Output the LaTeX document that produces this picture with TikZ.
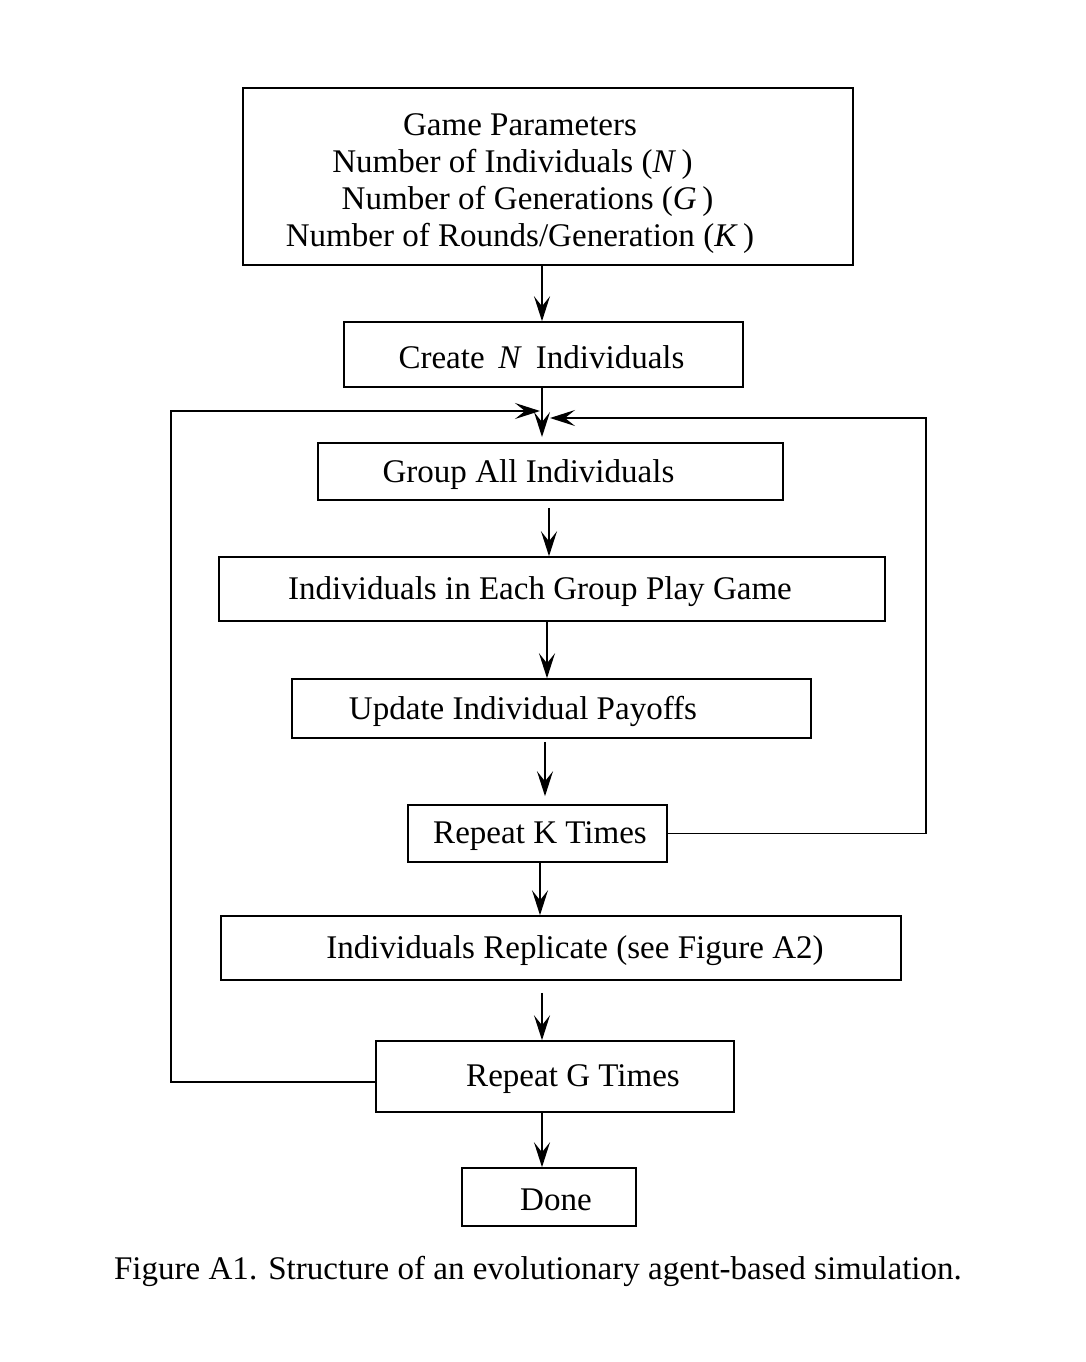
\documentclass[tikz,border=0pt]{standalone}
\usepackage{fontspec}
\setmainfont{Liberation Serif}
\usetikzlibrary{arrows.meta}

\begin{document}
\begin{tikzpicture}[line width=0.9pt, font=\fontsize{18.8}{21.2}\selectfont,
    box/.style = {draw, inner sep=0pt},
    every label/.append style = {yshift=-0.06cm},
    arr/.style = {-{Stealth[length=0.5cm, width=0.32cm, inset=0.2cm]}}]
      \useasboundingbox (0,0) rectangle (21.72,-27.24);
      % boxes
      \node[box, minimum width=12.2cm, minimum height=3.54cm] (params) at (10.96,-3.53) {};
      \node[align=center] (paramtext) at (10.40,-3.67) {Game Parameters\\ \hspace*{-0.3cm}Number of Individuals (\textit{N}\,)\\ \hspace*{0.3cm}Number of Generations (\textit{G}\,)\\ Number of Rounds/Generation (\textit{K}\,)};
      \node[box, minimum width=7.98cm, minimum height=1.30cm, label={[xshift=-0.04cm]center:Create \,\textit{N}\, Individuals}] (create) at (10.87,-7.09) {};
      \node[box, minimum width=9.30cm, minimum height=1.14cm, label={[xshift=-0.44cm]center:Group All Individuals}] (group) at (11.01,-9.43) {};
      \node[box, minimum width=13.32cm, minimum height=1.28cm, label={[xshift=-0.24cm]center:Individuals in Each Group Play Game}] (play) at (11.04,-11.78) {};
      \node[box, minimum width=10.38cm, minimum height=1.18cm, label={[xshift=-0.57cm]center:Update Individual Payoffs}] (update) at (11.03,-14.17) {};
      \node[box, minimum width=5.18cm, minimum height=1.14cm, label={[xshift=0.05cm]center:Repeat K Times}] (repk) at (10.75,-16.67) {};
      \node[box, minimum width=13.60cm, minimum height=1.28cm, label={[xshift=0.28cm]center:Individuals Replicate (see Figure A2)}] (replicate) at (11.22,-18.96) {};
      \node[box, minimum width=7.16cm, minimum height=1.42cm, label={[xshift=0.36cm]center:Repeat G Times}] (repg) at (11.10,-21.53) {};
      \node[box, minimum width=3.48cm, minimum height=1.16cm, label={[xshift=0.14cm]center:Done}] (done) at (10.98,-23.94) {};
      \node (caption) at (10.76,-25.42) {Figure A1. Structure of an evolutionary agent-based simulation.};
      % where the loops come back
      \coordinate (join) at (10.84,-8.74);
      \coordinate (gin) at (10.80,-8.22);
      \coordinate (kin) at (11.00,-8.36);
      % arrows
      \draw[arr] ([xshift=-0.12cm]params.south) -- ([xshift=-0.12cm]params.south |- create.north);
      \draw[arr] ([xshift=-0.03cm]create.south) -- (join);
      \draw[arr] ([shift={(-0.03,-0.14)}]group.south) -- ([xshift=-0.03cm]group.south |- play.north);
      \draw[arr] ([xshift=-0.10cm]play.south) -- ([xshift=-0.10cm]play.south |- update.north);
      \draw[arr, shorten >=0.16cm] ([shift={(-0.13,-0.06)}]update.south) -- ([xshift=-0.13cm]update.south |- repk.north);
      \draw[arr] ([xshift=0.05cm]repk.south) -- ([xshift=0.05cm]repk.south |- replicate.north);
      \draw[arr] ([shift={(-0.38,-0.24)}]replicate.south) -- ([xshift=-0.38cm]replicate.south |- repg.north);
      \draw[arr] ([xshift=-0.26cm]repg.south) -- ([xshift=-0.26cm]repg.south |- done.north);
      % loops
      \draw[arr] (repk.east) -- (18.52,-16.67) |- (kin);
      \draw[arr] ([yshift=-0.11cm]repg.west) -- ++(-4.08,0) |- (gin);
    \end{tikzpicture}
\end{document}
